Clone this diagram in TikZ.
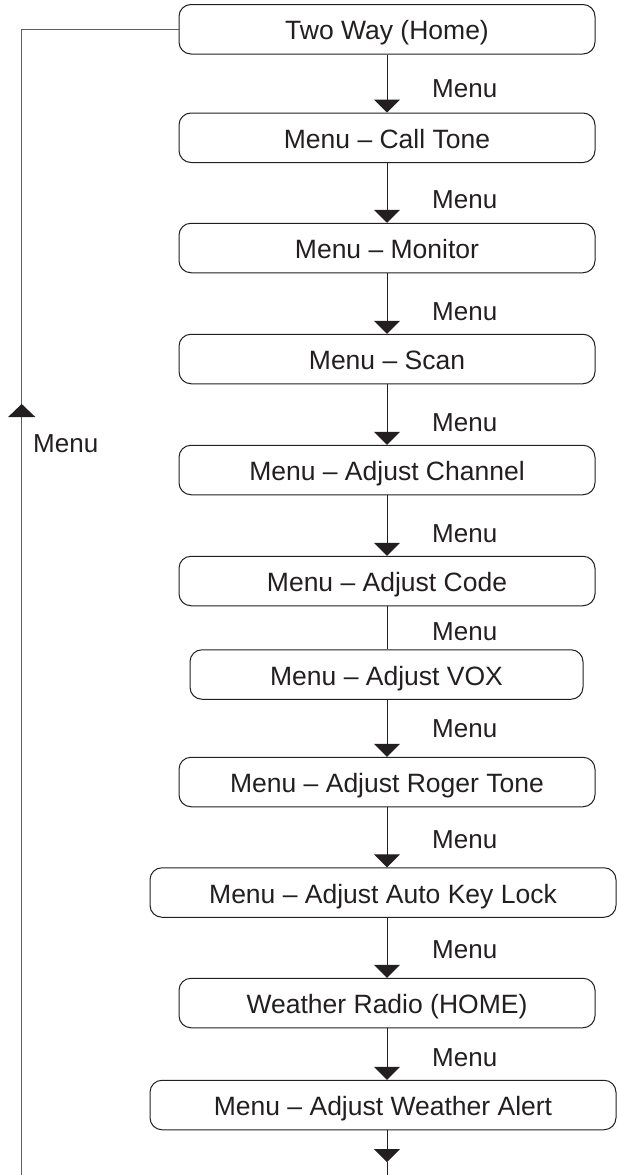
\documentclass[tikz,border=0pt]{standalone}
\usepackage{fontspec}
\setmainfont{Liberation Sans}
\usetikzlibrary{arrows.meta}
\definecolor{ink}{HTML}{231F20}
\definecolor{retline}{HTML}{5E5E5E}
\begin{document}
\begin{tikzpicture}[x=1pt,y=-1pt,
  box/.style={draw=ink, line width=1pt, rounded corners=12pt, inner sep=0pt,
    minimum height=49.5pt, text=ink, font=\fontsize{26.5}{29}\selectfont,
    text height=21pt, text depth=0pt, align=center},
  lbl/.style={anchor=base west, inner sep=0pt, text=ink, font=\fontsize{26}{29}\selectfont},
  conn/.style={draw=ink, line width=1pt},
  arr/.style={conn, -{Triangle[width=26pt,length=13pt]}},
  arrback/.style={draw=retline, line width=1.2pt, -{Triangle[width=27pt,length=13pt,color=ink,fill=ink]}}
]
\useasboundingbox (0,0) rectangle (617,1175);

\node[box, minimum width=416pt] (home)  at (387,29.25) {Two Way (Home)};
\node[box, minimum width=416pt] (call)  at (387,137.75) {Menu -- Call Tone};
\node[box, minimum width=416pt] (mon)   at (387,248) {Menu -- Monitor};
\node[box, minimum width=416pt] (scan)  at (387,359) {Menu -- Scan};
\node[box, minimum width=416pt] (chan)  at (387,470) {Menu -- Adjust Channel};
\node[box, minimum width=416pt] (code)  at (387,581) {Menu -- Adjust Code};
\node[box, minimum width=393pt] (vox)   at (386.5,674.5) {Menu -- Adjust VOX};
\node[box, minimum width=416pt] (roger) at (387,782) {Menu -- Adjust Roger Tone};
\node[box, minimum width=466pt] (auto)  at (383,892.5) {Menu -- Adjust Auto Key Lock};
\node[box, minimum width=416pt] (wr)    at (387,1003) {Weather Radio (HOME)};
\node[box, minimum width=466pt] (alert) at (383,1105) {Menu -- Adjust Weather Alert};

% down connectors
\draw[arr] (home.south) -- (call.north);
\draw[arr] (call.south) -- (mon.north);
\draw[arr] (mon.south) -- (scan.north);
\draw[arr] (scan.south) -- (chan.north);
\draw[arr] (chan.south) -- (code.north);
\draw[conn] (code.south) -- (code.south |- vox.north);
\draw[arr] (code.south |- vox.south) -- (roger.north);
\draw[arr] (roger.south) -- (roger.south |- auto.north);
\draw[arr] (roger.south |- auto.south) -- (wr.north);
\draw[arr] (wr.south) -- (wr.south |- alert.north);

% bottom exit
\coordinate (bottip) at (387,1162);
\coordinate (botend) at (387,1175);
\draw[arr] (wr.south |- alert.south) -- (bottip);
\draw[conn] (bottip) -- (botend);

% return line on the left
\coordinate (lb) at (21.7,1175);
\coordinate (lbase) at (21.7,440);
\coordinate (ltip) at (21.7,404);
\draw[draw=retline, line width=1.2pt] (lb) |- (home.west);
\draw[arrback] (lbase) -- (ltip);

% labels
\node[lbl] (l1)  at (432,97)   {Menu};
\node[lbl] (l2)  at (432,208)  {Menu};
\node[lbl] (l3)  at (432,320)  {Menu};
\node[lbl] (l4)  at (432,431)  {Menu};
\node[lbl] (l5)  at (432,542)  {Menu};
\node[lbl] (l6)  at (432,640)  {Menu};
\node[lbl] (l7)  at (432,737)  {Menu};
\node[lbl] (l8)  at (432,848)  {Menu};
\node[lbl] (l9)  at (432,958)  {Menu};
\node[lbl] (l10) at (432,1066) {Menu};
\node[lbl] (l11) at (33,452)   {Menu};
\end{tikzpicture}
\end{document}
